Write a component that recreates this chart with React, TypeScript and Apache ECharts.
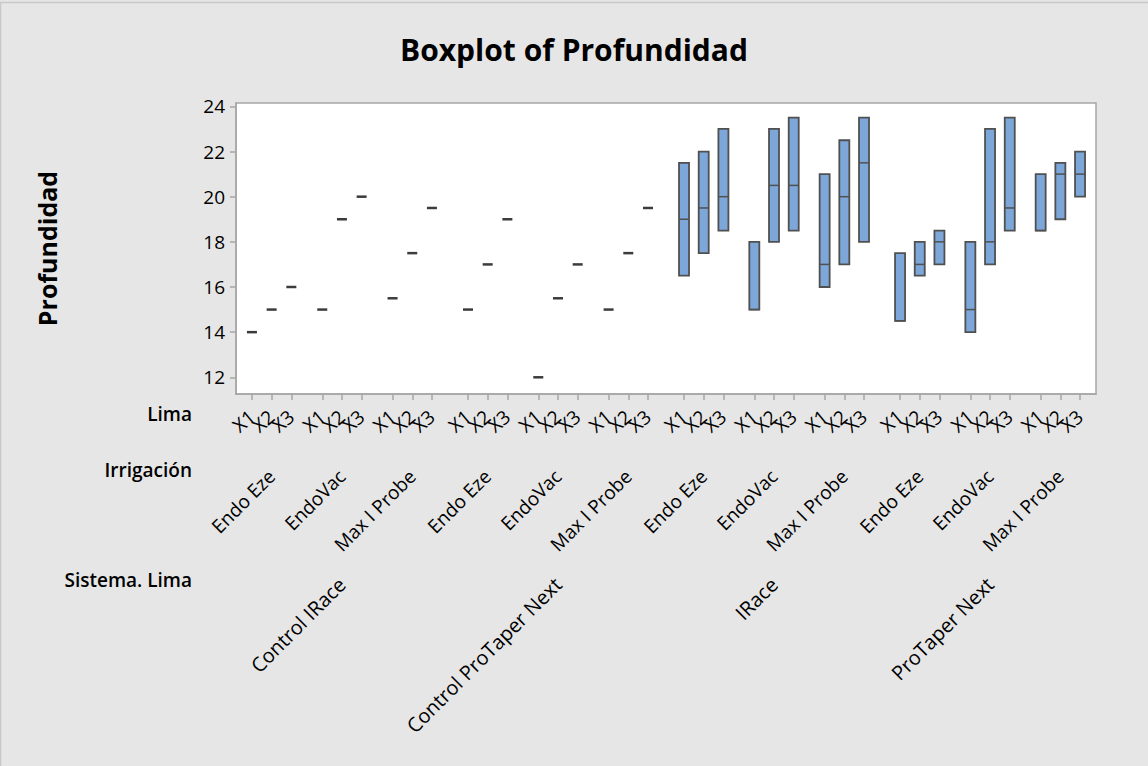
import React, { useEffect, useRef } from "react";
import * as echarts from "echarts";

// Factor levels
const systems = ["Control IRace", "Control ProTaper Next", "IRace", "ProTaper Next"];
const irrigations = ["Endo Eze", "EndoVac", "Max I Probe"];
const limas = ["X1", "X2", "X3"];

// Profundidad quartiles per cell, ordered system → irrigation → lima
const q1Values = [
  14, 15, 16, 15, 19, 20, 15.5, 17.5, 19.5,
  15, 17, 19, 12, 15.5, 17, 15, 17.5, 19.5,
  16.5, 17.5, 18.5, 15, 18, 18.5, 16, 17, 18,
  14.5, 16.5, 17, 14, 17, 18.5, 18.5, 19, 20,
];
const medianValues = [
  14, 15, 16, 15, 19, 20, 15.5, 17.5, 19.5,
  15, 17, 19, 12, 15.5, 17, 15, 17.5, 19.5,
  19, 19.5, 20, 15, 20.5, 20.5, 17, 20, 21.5,
  14.5, 17, 18, 15, 18, 19.5, 18.5, 21, 21,
];
const q3Values = [
  14, 15, 16, 15, 19, 20, 15.5, 17.5, 19.5,
  15, 17, 19, 12, 15.5, 17, 15, 17.5, 19.5,
  21.5, 22, 23, 18, 23, 23.5, 21, 22.5, 23.5,
  17.5, 18, 18.5, 18, 23, 23.5, 21, 21.5, 22,
];

const yTicks = [12, 14, 16, 18, 20, 22, 24];

// Spacing of the nested categorical scale (in units of one lima step)
const IRR_GAP = 1.57;
const SYS_GAP = 1.83;
const IRR_STRIDE = (limas.length - 1) + IRR_GAP;
const SYS_STRIDE = (irrigations.length - 1) * IRR_STRIDE + (limas.length - 1) + SYS_GAP;

const posOf = (s: number, i: number, l: number) => s * SYS_STRIDE + i * IRR_STRIDE + l;

const cellPos: number[] = [];
const cellLabel: string[] = [];
systems.forEach((_, s) =>
  irrigations.forEach((_, i) =>
    limas.forEach((lima, l) => {
      cellPos.push(posOf(s, i, l));
      cellLabel.push(lima);
    })
  )
);
const irrPos: number[] = [];
const irrLabel: string[] = [];
systems.forEach((_, s) =>
  irrigations.forEach((irr, i) => {
    irrPos.push(posOf(s, i, 1));
    irrLabel.push(irr);
  })
);
const sysPos: number[] = systems.map((_, s) => posOf(s, 1, 1));

const X_MIN = -0.81;
const X_MAX = cellPos[cellPos.length - 1] + 0.81;

// Blank end labels keep the real first/last labels clear of ECharts' min/max overlap pruning
const limaLabelPos = [X_MIN, ...cellPos, X_MAX];
const limaLabelText = ["", ...cellLabel, ""];

const lookup = (positions: number[], labels: string[]) => (v: number) => {
  const k = positions.findIndex((p) => Math.abs(p - v) < 1e-6);
  return k >= 0 ? labels[k] : "";
};

const FONT = "'Open Sans', 'Noto Sans', sans-serif";
const BOX_FILL = "#7DA7D9";
const EDGE = "#505050";
const FRAME = "#A6A6A6";

export default function App() {
  const ref = useRef<HTMLDivElement>(null);

  useEffect(() => {
    if (!ref.current) return;
    const chart = echarts.init(ref.current, undefined, { renderer: "svg" });

    const data = cellPos.map((x, k) => [x, q1Values[k], medianValues[k], q3Values[k]]);

    const catAxisBase = {
      type: "value" as const,
      min: X_MIN,
      max: X_MAX,
      position: "bottom" as const,
      splitLine: { show: false },
    };
    const labelBase = {
      showMinLabel: true,
      showMaxLabel: true,
      color: "#000",
      fontFamily: FONT,
    };
    const leftLabel = (text: string, y: number) => ({
      type: "text",
      x: 192,
      y,
      style: { text, fontFamily: FONT, fontSize: 19, fontWeight: 600, fill: "#000", align: "right", verticalAlign: "middle" },
    });

    chart.setOption({
      animation: false,
      backgroundColor: "#E6E6E6",
      textStyle: { fontFamily: FONT },
      title: {
        text: "Boxplot of Profundidad",
        left: "center",
        top: 29,
        textStyle: { fontFamily: FONT, fontSize: 30, fontWeight: "bold", color: "#000" },
      },
      grid: {
        left: 236,
        right: 52,
        top: 103,
        bottom: 372,
        show: true,
        backgroundColor: "#FFFFFF",
        borderColor: FRAME,
        borderWidth: 1.5,
      },
      xAxis: [
        {
          // frame line and one tick per cell
          ...catAxisBase,
          axisLine: { show: true, onZero: false, lineStyle: { color: FRAME, width: 1.5 } },
          axisTick: { show: true, length: 6, customValues: cellPos, lineStyle: { color: FRAME, width: 1.5 } },
          axisLabel: { show: false },
        },
        {
          // Lima level
          ...catAxisBase,
          axisLine: { show: false, onZero: false },
          axisTick: { show: false },
          axisLabel: {
            ...labelBase,
            showMinLabel: false,
            showMaxLabel: false,
            customValues: limaLabelPos,
            formatter: lookup(limaLabelPos, limaLabelText),
            rotate: 40,
            margin: 20,
            fontSize: 19,
          },
        },
        {
          // Irrigación level
          ...catAxisBase,
          offset: 60,
          axisLine: { show: false, onZero: false },
          axisTick: { show: false },
          axisLabel: {
            ...labelBase,
            customValues: irrPos,
            formatter: lookup(irrPos, irrLabel),
            rotate: 45,
            margin: 19,
            fontSize: 19,
          },
        },
        {
          // Sistema. Lima level
          ...catAxisBase,
          offset: 168,
          axisLine: { show: false, onZero: false },
          axisTick: { show: false },
          axisLabel: {
            ...labelBase,
            customValues: sysPos,
            formatter: lookup(sysPos, systems),
            rotate: 45,
            margin: 19,
            fontSize: 20,
          },
        },
      ],
      yAxis: {
        type: "value",
        min: 11.26,
        max: 24.15,
        name: "Profundidad",
        nameLocation: "middle",
        nameGap: 177,
        nameTextStyle: { fontFamily: FONT, fontSize: 25, fontWeight: "bold", color: "#000" },
        splitLine: { show: false },
        axisLine: { show: true, onZero: false, lineStyle: { color: FRAME, width: 1.5 } },
        axisTick: { show: true, length: 6, customValues: yTicks, lineStyle: { color: FRAME, width: 1.5 } },
        axisLabel: {
          ...labelBase,
          customValues: yTicks,
          margin: 11,
          fontSize: 19,
        },
      },
      graphic: [
        {
          type: "rect",
          shape: { x: 0.5, y: 2.5, width: 1200, height: 800 },
          style: { fill: "none", stroke: "#C8C8C8", lineWidth: 1.5 },
          silent: true,
        },
        leftLabel("Lima", 414),
        leftLabel("Irrigación", 470),
        leftLabel("Sistema. Lima", 580),
      ],
      series: [
        {
          type: "custom",
          xAxisIndex: 0,
          yAxisIndex: 0,
          encode: { x: 0, y: [1, 2, 3] },
          data,
          renderItem: (_params: any, api: any) => {
            const x = api.value(0);
            const q1 = api.value(1);
            const med = api.value(2);
            const q3 = api.value(3);
            const top = api.coord([x, q3]);
            const bot = api.coord([x, q1]);
            const mid = api.coord([x, med]);
            const half = 5;
            if (q3 - q1 < 1e-9) {
              return {
                type: "line",
                shape: { x1: mid[0] - half, y1: mid[1], x2: mid[0] + half, y2: mid[1] },
                style: { stroke: "#3C3C3C", lineWidth: 2.5 },
              };
            }
            return {
              type: "group",
              children: [
                {
                  type: "rect",
                  shape: { x: top[0] - half, y: top[1], width: half * 2, height: bot[1] - top[1] },
                  style: { fill: BOX_FILL, stroke: EDGE, lineWidth: 1.8 },
                },
                {
                  type: "line",
                  shape: { x1: mid[0] - half, y1: mid[1], x2: mid[0] + half, y2: mid[1] },
                  style: { stroke: EDGE, lineWidth: 1.5 },
                },
              ],
            };
          },
        },
      ],
    });

    return () => chart.dispose();
  }, []);

  return (
    <div
      ref={ref}
      style={{ position: "fixed", left: 0, top: 0, width: 1148, height: 766 }}
    />
  );
}
